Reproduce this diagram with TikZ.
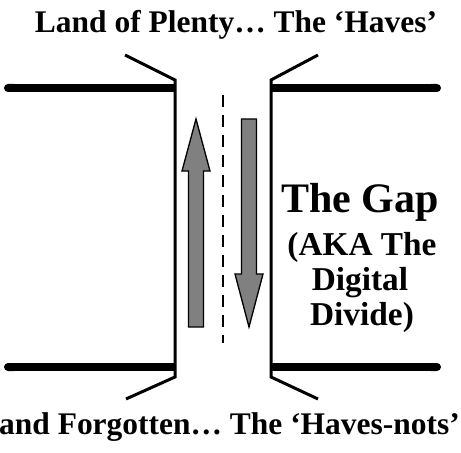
\documentclass[tikz,border=0pt]{standalone}
\usepackage{fontspec}
\setmainfont{Liberation Serif}
\usetikzlibrary{arrows.meta}
\tikzstyle{every node}=[inner sep=0pt,font=\bfseries]
\tikzstyle{every path}=[line join=miter]
\newcommand{\lanearrow}[4]{\draw[lane] (#1,#2) -- (#1+14,#3) -- (#1+7.5,#3) -- (#1+7.5,#4)
	-- (#1-7.5,#4) -- (#1-7.5,#3) -- (#1-14,#3) -- cycle;}

\begin{document}
\begin{tikzpicture}[x=0.75pt,y=-0.75pt]
		\tikzstyle{land} = [line width=6pt,-{Round Cap[]}]
		\tikzstyle{wall} = [line width=2.25pt]
		\tikzstyle{lane} = [fill=gray,draw=black,line width=1pt]
		\tikzstyle{banner} = [font=\fontsize{23.6}{28}\selectfont\bfseries,anchor=base]
		\tikzstyle{gaptext} = [font=\fontsize{25}{30}\selectfont\bfseries,anchor=base]
		\useasboundingbox (0,0) rectangle (461,453);
		
		\draw[land] (175,88) -- (4,88);
		\draw[land] (271,88) -- (441,88);
		\draw[land] (175,367) -- (4,367);
		\draw[land] (271,367) -- (441,367);
		
		\draw[wall] (125,55) -- (175,80) -- (175,377) -- (126,399);
		\draw[wall] (318,55) -- (271,80) -- (271,377) -- (318,399);
		
		\draw[line width=0.9pt,dash pattern=on 9 off 6] (223,95) -- (223,343);
		
		\lanearrow{196}{119}{171}{327}
		\lanearrow{249}{327}{274}{119}
		
		\node[banner] (plenty) at (236,33) {Land of Plenty… The ‘Haves’};
		\node[banner] (forgotten) at (219,434) {Land Forgotten… The ‘Haves-nots’};
		
		\node[gaptext,font=\fontsize{31.5}{38}\selectfont\bfseries] (gap) at (360,212) {The Gap};
		\node[gaptext] (aka) at (362,255) {(AKA The};
		\node[gaptext] (digital) at (360,290) {Digital};
		\node[gaptext] (divide) at (362,325) {Divide)};
		
	\end{tikzpicture}
\end{document}
